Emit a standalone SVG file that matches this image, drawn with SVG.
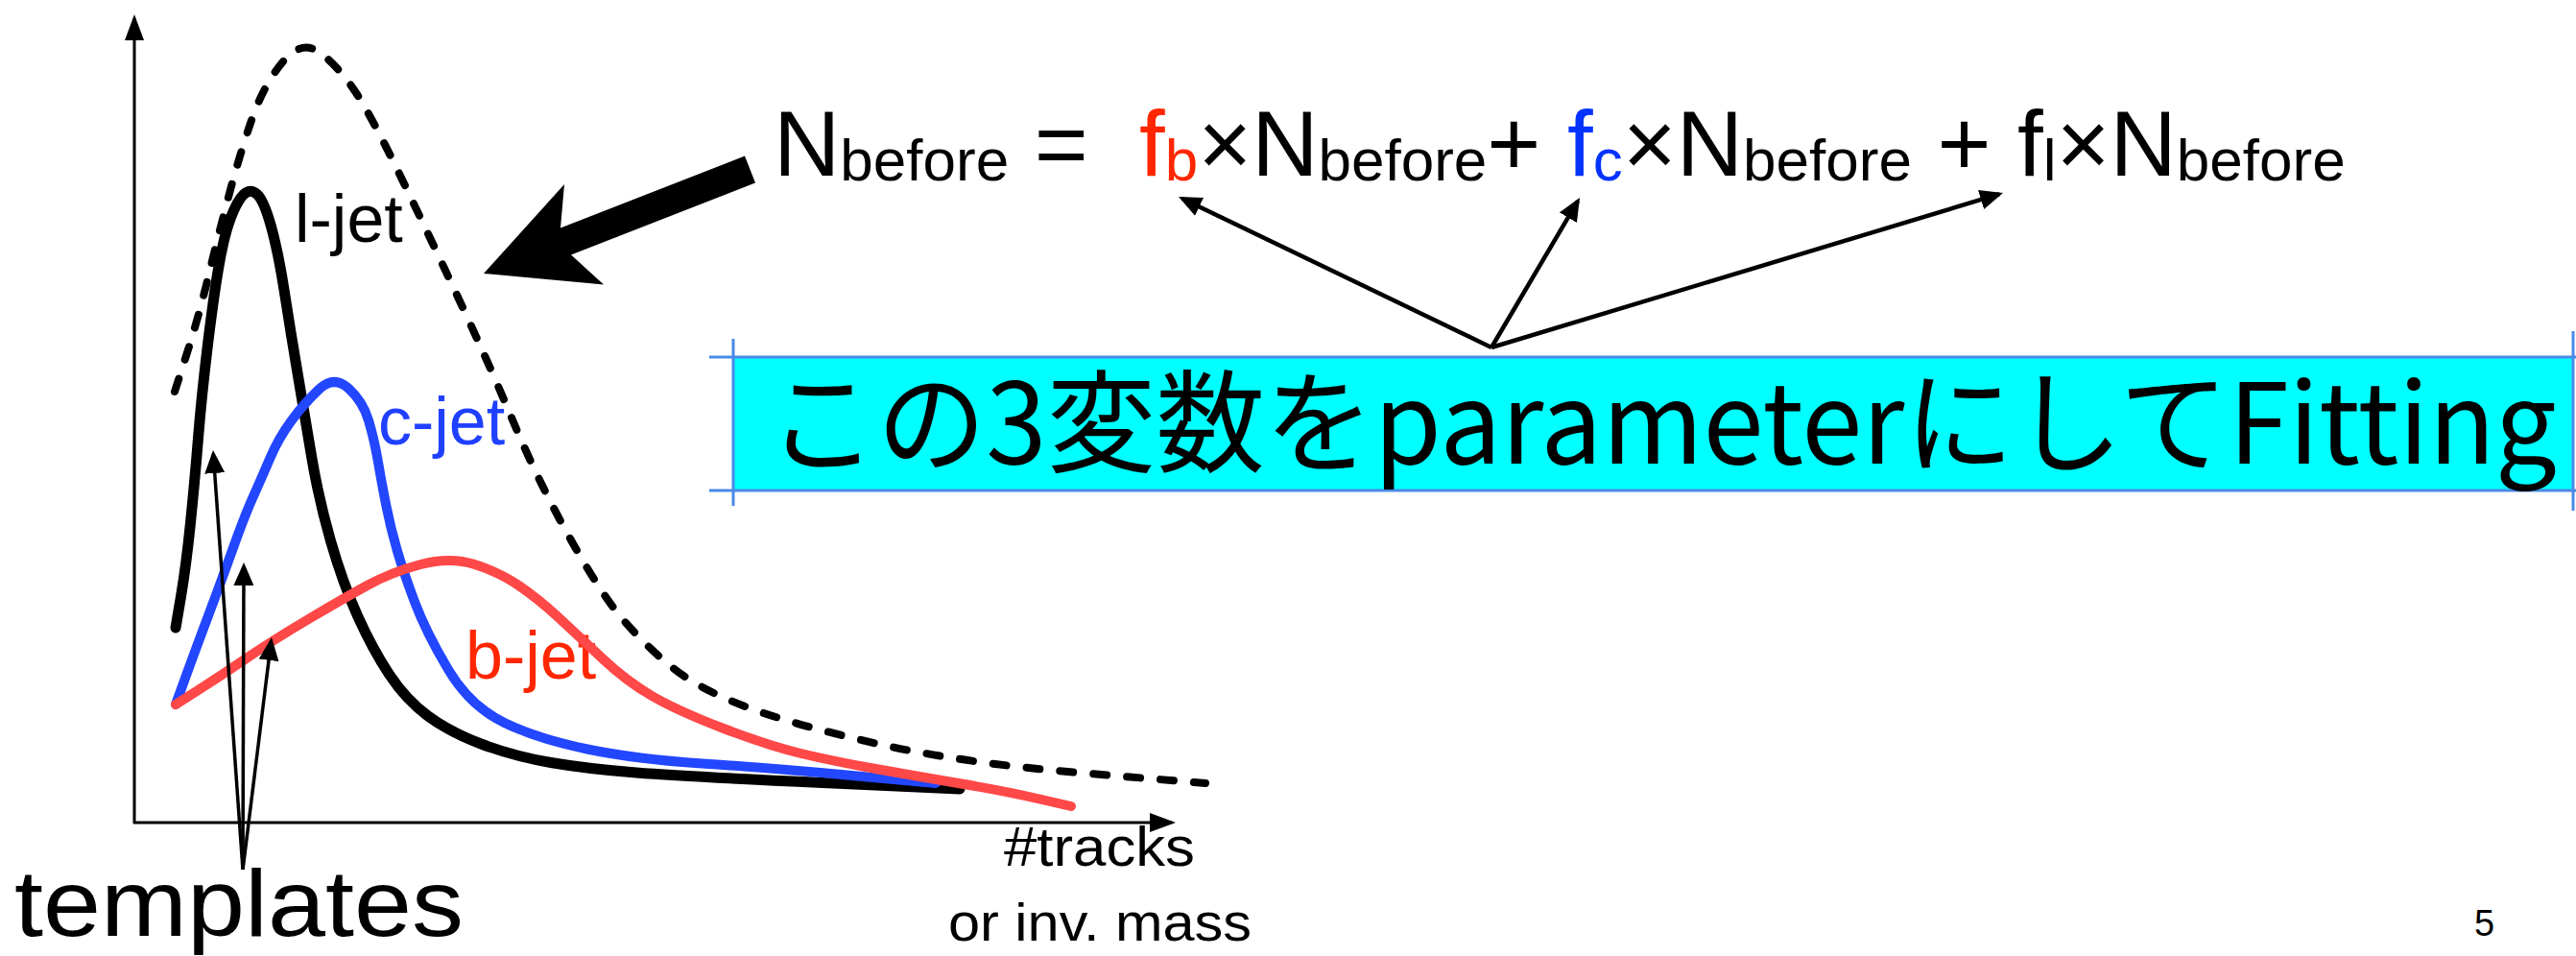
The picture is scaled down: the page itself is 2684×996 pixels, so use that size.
<svg xmlns="http://www.w3.org/2000/svg" width="2684" height="996" viewBox="0 0 2684 996">
<style>
.lat{font-family:"Liberation Sans",Arial,sans-serif}
.jp{font-family:"Noto Sans CJK JP","Noto Sans",sans-serif}
.sub{font-size:62px}
.curve{fill:none;stroke-linecap:round;stroke-linejoin:round}
.ptr{fill:none;stroke:#000}
.boxline{stroke:#4a8ae6;stroke-width:3;fill:none}
</style>
<defs>
<marker id="axhead" markerUnits="userSpaceOnUse" viewBox="0 0 27 20" markerWidth="27" markerHeight="20" refX="23" refY="10" orient="auto"><path d="M0,0 L27,10 L0,20 z" fill="#000"/></marker>
<marker id="smhead" markerUnits="userSpaceOnUse" viewBox="0 0 24 21" markerWidth="24" markerHeight="21" refX="20" refY="10.5" orient="auto"><path d="M0,0 L24,10.5 L0,21 z" fill="#000"/></marker>
</defs>
<rect width="2684" height="996" fill="#fff"/>

<g id="axes">
<line class="ptr" x1="140" y1="858" x2="140" y2="19" stroke-width="3" marker-end="url(#axhead)"/>
<line class="ptr" x1="139" y1="857" x2="1221" y2="857" stroke-width="3" marker-end="url(#axhead)"/>
</g>

<g id="labels">
<text class="lat" x="307" y="252" font-size="70" fill="#000">l-jet</text>
<text class="lat" x="394" y="463" font-size="70" fill="#2040ff">c-jet</text>
<text class="lat" x="485" y="707" font-size="70" fill="#ff2600">b-jet</text>
<text class="lat" x="1046" y="902" font-size="58" textLength="199" lengthAdjust="spacingAndGlyphs">#tracks</text>
<text class="lat" x="988" y="980" font-size="56" textLength="316" lengthAdjust="spacingAndGlyphs">or inv. mass</text>
<text class="lat" x="15" y="975" font-size="98" textLength="468" lengthAdjust="spacingAndGlyphs">templates</text>
<text class="lat" x="2578" y="975" font-size="38">5</text>
</g>

<g id="curves">
<path id="sum" class="curve" stroke="#000" stroke-width="8" stroke-dasharray="14 21" d="M182,408 L194.5,369 Q207,330 217,288.5 Q227,247 238.5,203.5 Q250,160 262.5,124 Q275,88 295,64 Q315,40 335,56 Q355,72 371.5,97.5 Q388,123 417,183 Q446,243 478,311.5 Q510,380 535.5,441 Q561,502 594,561 Q627,620 650,646.5 Q673,673 700,695 Q727,717 775,735.5 Q823,754 912.5,774.5 Q1002,795 1129,805.5 L1256,816"/>
<path id="ljet" class="curve" stroke="#000" stroke-width="11" d="M183,654 L188.5,621.5 Q194,589 198.5,544.5 Q203,500 206.5,456.5 Q210,413 216,363 Q222,313 227.5,280 Q233,247 240,228 Q247,209 254,202.5 Q261,196 268,202.5 Q275,209 282.5,236 Q290,263 296.5,305 Q303,347 310,388.5 Q317,430 324.5,475 Q332,520 344.5,563.5 Q357,607 372.5,641.5 Q388,676 405.5,702.5 Q423,729 446,746 Q469,763 502.5,775.5 Q536,788 574,794.5 Q612,801 663,805 Q714,809 857,815.5 L1000,822"/>
<path id="cjet" class="curve" stroke="#2346ff" stroke-width="10" d="M183,734 L193.5,705 Q204,676 217,641.5 Q230,607 242.5,572 Q255,537 264,517 Q273,497 281.5,477 Q290,457 303.5,438.5 Q317,420 332.5,405.5 Q348,391 363,404.5 Q378,418 384,438 Q390,458 394,481.5 Q398,505 402.5,527.5 Q407,550 413.5,572.5 Q420,595 432,627 Q444,659 467,697.5 Q490,736 525.5,753 Q561,770 612,780.5 Q663,791 731.5,795.5 Q800,800 887.5,808 L975,816"/>
<path id="bjet" class="curve" stroke="#ff4848" stroke-width="10" d="M183,734 L206.5,719 Q230,704 258,685 Q286,666 321.5,645 Q357,624 382.5,610 Q408,596 438.5,588 Q469,580 494.5,588 Q520,596 540.5,610 Q561,624 580.5,642 Q600,660 626.5,685 Q653,710 680,725.5 Q707,741 754,759 Q801,777 834.5,785 Q868,793 912.5,801 Q957,809 1001.5,816.5 Q1046,824 1081,832 L1116,840"/>
</g>

<g id="formula">
<text class="lat" x="806" y="183" font-size="96" fill="#000" xml:space="preserve">N<tspan class="sub" y="188">before</tspan><tspan y="183"> =  </tspan><tspan x="1187" y="183" fill="#ff2600">f</tspan><tspan class="sub" y="188" fill="#ff2600">b</tspan><tspan y="183">×N</tspan><tspan class="sub" y="188">before</tspan><tspan y="183">+ </tspan><tspan x="1633" y="183" fill="#0433ff">f</tspan><tspan class="sub" y="188" fill="#0433ff">c</tspan><tspan y="183">×N</tspan><tspan class="sub" y="188">before</tspan><tspan y="183"> + </tspan><tspan x="2102" y="183">f</tspan><tspan class="sub" y="188">l</tspan><tspan y="183">×N</tspan><tspan class="sub" y="188">before</tspan></text>
</g>

<g id="bigarrow">
<polygon points="504,285 588,192 584,237.5 776,162.5 787,190.5 595,265.5 629,296.5" fill="#000"/>
</g>

<g id="fitbox">
<rect x="764" y="372" width="1917" height="139" fill="#00ffff"/>
<line class="boxline" x1="739" y1="372" x2="2684" y2="372"/>
<line class="boxline" x1="739" y1="511" x2="2684" y2="511"/>
<line class="boxline" x1="764" y1="353" x2="764" y2="527"/>
<line class="boxline" x1="2681" y1="345" x2="2681" y2="532"/>
<text class="jp" x="800" y="483" font-size="116" fill="#000" textLength="1864" lengthAdjust="spacingAndGlyphs">この3変数をparameterにしてFitting</text>
</g>

<g id="connectors">
<line class="ptr" stroke-width="3.5" x1="253" y1="906" x2="222.3" y2="473" marker-end="url(#smhead)"/>
<line class="ptr" stroke-width="3.5" x1="253" y1="906" x2="254" y2="590" marker-end="url(#smhead)"/>
<line class="ptr" stroke-width="3.5" x1="253" y1="906" x2="282.5" y2="668" marker-end="url(#smhead)"/>
<line class="ptr" stroke-width="4.5" x1="1554" y1="362" x2="1231.6" y2="206.7" marker-end="url(#smhead)"/>
<line class="ptr" stroke-width="4.5" x1="1554" y1="362" x2="1644" y2="209.4" marker-end="url(#smhead)"/>
<line class="ptr" stroke-width="4.5" x1="1554" y1="362" x2="2083.2" y2="202.2" marker-end="url(#smhead)"/>
</g>
</svg>
